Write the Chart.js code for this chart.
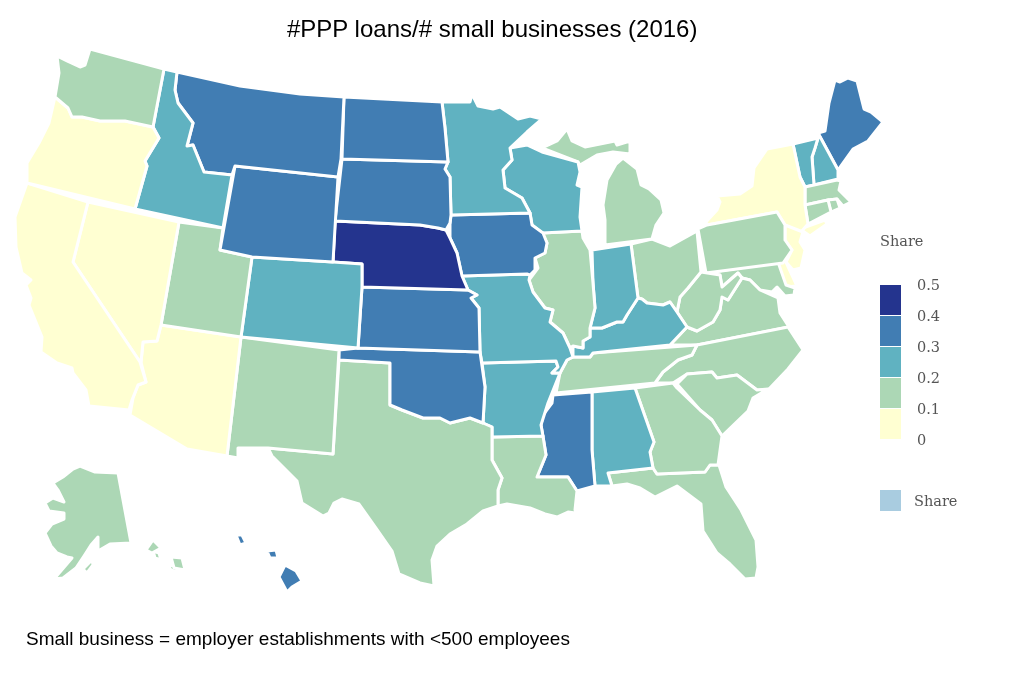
<!DOCTYPE html>
<html>
<head>
<meta charset="utf-8">
<title>#PPP loans/# small businesses (2016)</title>
<script src="https://cdn.jsdelivr.net/npm/chart.js@4"></script>
<style>
  html, body { margin: 0; background: #fff; }
  #wrap { position: relative; width: 1009px; height: 679px; overflow: hidden; }
  #wrap div { position: absolute; white-space: nowrap; }
  .sans { font-family: "Liberation Sans", sans-serif; color: #000; }
  .serif { font-family: "DejaVu Serif", serif; font-size: 14.5px; line-height: 16px; color: #555; }
</style>
</head>
<body>
<div id="wrap"><canvas id="mapChart" width="1009" height="679"></canvas></div>
<script>
const states = ['WA','OR','CA','NV','ID','MT','WY','UT','AZ','CO','NM','ND','SD','NE','KS','OK','TX',
  'MN','IA','MO','AR','LA','WI','IL','MI','IN','KY','TN','MS','AL','GA','FL','SC','NC','OH','WV','VA',
  'PA','MD','DE','NJ','NY','CT','RI','MA','VT','NH','ME','AK','HI'];
const shares = [0.15,0.05,0.05,0.05,0.25,0.35,0.35,0.15,0.05,0.25,0.15,0.35,0.35,0.45,0.35,0.35,0.15,
  0.25,0.35,0.25,0.25,0.15,0.25,0.15,0.15,0.25,0.25,0.15,0.35,0.25,0.15,0.15,0.15,0.15,0.15,0.15,0.15,
  0.15,0.15,0.05,0.05,0.05,0.15,0.15,0.15,0.25,0.25,0.35,0.15,0.35];

const binEdges = [0.1, 0.2, 0.3, 0.4];
const binColors = ['#ffffd2', '#acd7b5', '#60b2c1', '#417db3', '#24348e'];
const legendTicks = ['0.5', '0.4', '0.3', '0.2', '0.1', '0'];

// state outlines in map units, each state is a list of rings
const WA = [[[57,56],[67,61],[80,67],[85,65],[90,49],[164,69],[153,127],[125,121],[100,121],[82,117],[72,117],[68,108],[55,97],[59,73]]];
const OR = [[[55,97],[68,108],[72,117],[82,117],[100,121],[125,121],[153,127],[159,138],[145,161],[147,166],[135,209],[27,183],[27,163],[39,143],[49,123]]];
const CA = [[[27,183],[88,202],[73,262],[140,362],[146,382],[138,385],[132,400],[129,410],[89,406],[86,390],[73,373],[72,368],[57,363],[41,352],[42,337],[29,305],[31,298],[26,285],[31,280],[22,273],[16,247],[15,217]]];
const NV = [[[88,202],[179,222],[161,325],[157,341],[143,342],[141,362],[140,362],[73,262]]];
const ID = [[[164,69],[177,72],[175,90],[178,103],[193,123],[187,146],[193,145],[204,172],[232,175],[223,228],[135,209],[147,166],[145,161],[159,138],[153,127]]];
const MT = [[[177,72],[240,86],[300,94],[344,97],[341,159],[338,177],[235,166],[232,175],[204,172],[193,145],[187,146],[193,123],[178,103],[175,90]]];
const WY = [[[235,166],[338,177],[333,262],[252,257],[220,250]]];
const UT = [[[179,222],[223,228],[220,250],[252,257],[241,337],[161,325]]];
const AZ = [[[161,325],[241,337],[227,456],[187,449],[130,415],[133,398],[138,385],[146,382],[141,362],[143,342],[157,341]]];
const CO = [[[252,257],[333,262],[362,264],[362,287],[358,348],[241,337]]];
const NM = [[[241,337],[339,350],[333,454],[268,448],[238,448],[238,458],[227,456]]];
const ND = [[[344,97],[442,102],[445,128],[448,162],[342,159]]];
const SD = [[[342,159],[448,162],[445,169],[450,177],[451,215],[450,223],[446,230],[438,228],[420,225],[335,221]]];
const NE = [[[335,221],[420,225],[438,228],[446,230],[450,238],[457,253],[462,276],[468,290],[362,287],[362,264],[333,262]]];
const KS = [[[362,287],[468,290],[477,295],[471,298],[479,308],[480,352],[358,348]]];
const OK = [[[339,350],[358,348],[480,352],[485,387],[483,423],[470,418],[450,423],[440,418],[423,418],[402,410],[390,405],[390,363],[339,360]]];
const TX = [[[339,360],[390,363],[390,405],[402,410],[423,418],[440,418],[450,423],[470,418],[483,423],[492,427],[492,460],[502,478],[498,490],[498,506],[483,511],[467,524],[450,534],[437,546],[432,560],[434,586],[420,583],[399,574],[392,551],[376,528],[359,504],[342,499],[334,503],[329,513],[323,516],[302,503],[297,481],[272,456],[268,448],[333,454]]];
const MN = [[[442,102],[470,102],[472,94],[478,106],[493,109],[500,107],[518,119],[530,116],[542,119],[527,132],[510,148],[512,160],[503,170],[505,188],[522,198],[530,213],[451,215],[450,177],[445,169],[448,162],[445,128]]];
const IA = [[[451,215],[530,213],[532,225],[543,233],[547,243],[545,253],[535,258],[535,270],[530,275],[527,274],[462,276],[457,253],[450,238],[450,223]]];
const MO = [[[462,276],[527,274],[530,275],[529,280],[533,292],[545,308],[553,310],[550,322],[563,333],[570,348],[573,357],[567,360],[560,373],[552,373],[558,367],[556,361],[482,363],[480,352],[479,308],[471,298],[477,295],[468,290]]];
const AR = [[[482,363],[556,361],[558,367],[552,373],[560,373],[548,403],[541,425],[543,436],[492,437],[492,427],[483,423],[485,387]]];
const LA = [[[492,437],[543,436],[546,455],[537,477],[568,477],[577,491],[575,510],[583,514],[568,512],[557,517],[545,514],[530,508],[507,504],[498,506],[498,490],[502,478],[492,460]]];
const WI = [[[510,148],[527,145],[542,152],[578,162],[580,172],[577,185],[582,187],[580,217],[582,231],[542,233],[532,225],[530,213],[522,198],[505,188],[503,170],[512,160]]];
const IL = [[[542,233],[582,231],[583,238],[590,250],[593,283],[595,308],[590,328],[590,337],[583,341],[583,348],[573,346],[570,348],[563,333],[550,322],[553,310],[545,308],[533,292],[529,280],[538,268],[535,258],[545,253],[547,243]]];
const MI = [[[542,148],[557,141],[567,129],[572,141],[585,147],[615,141],[617,145],[630,141],[630,154],[613,152],[597,155],[580,165],[578,162]],
  [[623,158],[637,169],[641,185],[649,189],[661,200],[664,213],[656,225],[652,239],[605,245],[605,220],[603,205],[607,180],[616,164]]];
const IN = [[[592,250],[631,244],[638,298],[627,315],[623,322],[617,322],[602,328],[590,328],[595,308],[593,283]]];
const KY = [[[642,299],[647,303],[663,305],[670,302],[677,312],[687,327],[670,345],[593,353],[590,357],[573,357],[573,346],[583,348],[583,341],[590,337],[590,328],[602,328],[617,322],[623,322],[627,315],[638,298]]];
const TN = [[[567,360],[573,357],[590,357],[593,353],[697,345],[692,355],[678,360],[663,372],[655,383],[556,393],[560,373]]];
const MS = [[[553,395],[592,392],[592,450],[595,486],[577,491],[568,477],[537,477],[546,455],[541,425],[543,415],[552,403]]];
const AL = [[[592,392],[635,388],[654,442],[650,452],[653,468],[608,473],[612,486],[595,486],[592,450]]];
const GA = [[[635,388],[673,383],[677,388],[700,410],[712,420],[722,436],[718,465],[710,465],[705,472],[657,474],[653,468],[650,452],[654,442]]];
const FL = [[[608,473],[653,468],[657,474],[705,472],[710,465],[719,465],[726,487],[741,510],[756,540],[758,567],[756,578],[745,579],[730,564],[717,553],[703,531],[701,504],[677,486],[655,497],[640,488],[627,484],[612,486]]];
const SC = [[[677,384],[687,374],[712,372],[717,378],[737,375],[757,390],[768,389],[753,398],[748,411],[722,436],[712,420],[700,410]]];
const NC = [[[697,345],[788,327],[803,350],[788,369],[768,390],[757,390],[737,375],[717,378],[712,372],[687,374],[673,383],[655,383],[663,372],[678,360],[692,355]]];
const OH = [[[631,244],[652,239],[670,246],[697,231],[701,272],[688,288],[680,297],[677,312],[670,302],[663,305],[647,303],[642,299],[638,298]]];
const WV = [[[701,272],[720,275],[722,287],[738,273],[742,278],[728,300],[722,297],[720,310],[713,322],[697,331],[687,327],[677,312],[680,297],[688,288]]];
const VA = [[[670,345],[687,327],[697,331],[713,322],[720,310],[722,297],[728,300],[742,278],[750,280],[760,290],[778,298],[780,313],[789,327],[697,345]]];
const PA = [[[698,229],[707,225],[777,212],[785,225],[785,240],[792,250],[783,263],[706,273]]];
const MD = [[[706,273],[778,262],[786,285],[795,288],[794,295],[785,296],[777,287],[772,292],[760,290],[750,280],[742,278],[738,273],[722,287],[720,275]]];
const DE = [[[777,260],[785,260],[797,286],[785,287]]];
const NJ = [[[785,225],[803,232],[800,242],[805,250],[801,268],[793,270],[786,262],[792,250],[785,240]]];
const NY = [[[793,144],[800,177],[805,187],[805,205],[808,224],[801,232],[785,225],[777,212],[707,225],[706,222],[717,210],[720,202],[717,196],[740,194],[752,186],[754,168],[767,149]],
  [[800,229],[825,220],[827,224],[810,236]]];
const CT = [[[805,205],[828,200],[831,212],[808,224]]];
const RI = [[[828,200],[837,199],[840,208],[831,212]]];
const MA = [[[805,187],[837,180],[841,181],[839,190],[851,202],[843,206],[837,199],[828,200],[805,205]]];
const VT = [[[793,144],[818,138],[815,148],[812,157],[814,185],[805,187],[800,177]]];
const NH = [[[818,133],[838,170],[838,179],[814,185],[812,157],[815,148],[818,138]]];
const ME = [[[818,133],[825,131],[829,103],[835,80],[840,82],[848,78],[857,81],[864,109],[871,112],[883,122],[868,141],[853,149],[838,170]]];
const AK = [[[53,483],[63,477],[73,469],[80,466],[95,472],[118,473],[131,543],[110,544],[98,551],[98,537],[91,545],[84,556],[76,568],[63,578],[54,579],[72,558],[67,557],[57,553],[51,546],[45,533],[52,524],[64,519],[64,513],[49,511],[45,503],[53,498],[64,502],[58,490]],
  [[146,550],[153,540],[161,548],[152,553]],[[171,557],[182,558],[185,570],[174,568]],[[83,569],[92,560],[93,565],[87,573]],[[153,551],[159,553],[161,560],[155,558]],[[167,563],[177,567],[177,572],[171,570]]];
const HI = [[[285,565],[296,571],[302,581],[292,587],[287,592],[279,577]],[[236,535],[242,535],[246,543],[240,545]],[[267,551],[276,550],[278,558],[270,558]]];

const outlines = [WA,OR,CA,NV,ID,MT,WY,UT,AZ,CO,NM,ND,SD,NE,KS,OK,TX,MN,IA,MO,AR,LA,WI,IL,MI,IN,KY,TN,MS,AL,GA,FL,SC,NC,OH,WV,VA,PA,MD,DE,NJ,NY,CT,RI,MA,VT,NH,ME,AK,HI];

function colorFor(v) {
  var i = 0;
  while (i < binEdges.length && v >= binEdges[i]) i++;
  return binColors[i];
}

// one closed line dataset per ring
var datasets = [];
states.forEach(function(name, s) {
  outlines[s].forEach(function(ring) {
    datasets.push({
      label: name,
      data: ring.concat([ring[0]]).map(function(p) { return { x: p[0], y: p[1] }; }),
      showLine: true,
      fill: 'shape',
      tension: 0,
      pointRadius: 0,
      borderWidth: 3,
      borderColor: '#fff',
      borderJoinStyle: 'round',
      backgroundColor: colorFor(shares[s])
    });
  });
});

new Chart(document.getElementById('mapChart').getContext('2d'), {
  type: 'scatter',
  data: { datasets: datasets },
  options: {
    responsive: false,
    animation: false,
    layout: { padding: 0 },
    plugins: { legend: { display: false }, tooltip: { enabled: false } },
    scales: {
      x: { type: 'linear', display: false, min: 0, max: 1009 },
      y: { type: 'linear', display: false, min: 0, max: 679, reverse: true }
    }
  }
});

// title, note and legend as real text
var wrap = document.getElementById('wrap');
function addText(text, cls, css) {
  var d = document.createElement('div');
  d.className = cls;
  d.textContent = text;
  d.style.cssText = css;
  wrap.appendChild(d);
}
function addSwatch(color, top, height) {
  var d = document.createElement('div');
  d.style.cssText = 'left:880px;width:21px;top:' + top + 'px;height:' + height + 'px;background:' + color;
  wrap.appendChild(d);
}
addText('#PPP loans/# small businesses (2016)', 'sans', 'left:287px;top:15px;font-size:24px');
addText('Small business = employer establishments with <500 employees', 'sans', 'left:26px;top:628px;font-size:19px');
addText('Share', 'serif', 'left:880px;top:233px');
binColors.slice().reverse().forEach(function(c, i) {
  addSwatch(c, 285 + i * 31, 30);
});
legendTicks.forEach(function(t, i) {
  addText(t, 'serif', 'left:917px;top:' + (277 + i * 31) + 'px');
});
addSwatch('#a9cce0', 490, 21);
addText('Share', 'serif', 'left:914px;top:493px');
</script>
</body>
</html>
